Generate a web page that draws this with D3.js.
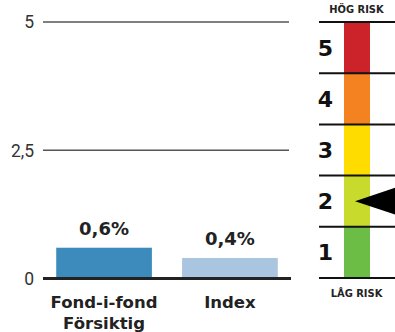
<!DOCTYPE html>
<html>
<head>
<meta charset="utf-8">
<script src="https://cdn.jsdelivr.net/npm/d3@7"></script>
<style>
  html, body { margin: 0; padding: 0; background: #fff; }
  svg { display: block; }
  text { font-family: Roboto, "Noto Sans", sans-serif; }
  .bold { font-family: "DejaVu Sans", sans-serif; font-weight: 700; }
  .cond { font-family: "DejaVu Sans Condensed", "DejaVu Sans", sans-serif; font-weight: 700; }
</style>
</head>
<body>
<svg id="chart" width="395" height="332"></svg>
<script>
// Fund fees vs index (percent)
const categories = ["Fond-i-fond Försiktig", "Index"];
const categoryLines = [["Fond-i-fond", "Försiktig"], ["Index"]];
const values = [0.6, 0.4];
const valueLabels = ["0,6%", "0,4%"];
const barColors = ["#3d8bbd", "#a9c5df"];
const yTicks = [0, 2.5, 5];
const yTickLabels = ["0", "2,5", "5"];

// Risk scale 1–5, current level
const riskLevels = [1, 2, 3, 4, 5];
const riskColors = ["#6cbd45", "#c8db2c", "#ffdc00", "#f58220", "#cc2229"];
const currentRisk = 2;
const riskTop = "HÖG RISK";
const riskBottom = "LÅG RISK";

const svg = d3.select("#chart");

// ---- Bar chart ----
const x = d3.scaleBand().domain(categories).range([43, 291]).paddingInner(0.24).paddingOuter(0.105);
const y = d3.scaleLinear().domain([0, 5]).range([278.5, 22]);

// gridlines
svg.append("g").selectAll("line")
  .data(yTicks.filter(d => d !== 0))
  .join("line")
  .attr("x1", 43).attr("x2", 289)
  .attr("y1", d => y(d)).attr("y2", d => y(d))
  .attr("stroke", "#555").attr("stroke-width", 1.4);

svg.append("g").selectAll("text")
  .data(yTicks)
  .join("text")
  .attr("x", 34).attr("y", d => y(d))
  .attr("dy", "0.36em")
  .attr("text-anchor", "end")
  .attr("font-size", 17.5)
  .attr("fill", "#333")
  .text((d, i) => yTickLabels[i]);

// bars
svg.append("g").selectAll("rect")
  .data(values)
  .join("rect")
  .attr("x", (d, i) => x(categories[i]))
  .attr("width", x.bandwidth())
  .attr("y", d => y(d))
  .attr("height", d => y(0) - y(d))
  .attr("fill", (d, i) => barColors[i]);

// baseline
svg.append("line")
  .attr("x1", 43).attr("x2", 291)
  .attr("y1", y(0)).attr("y2", y(0))
  .attr("stroke", "#222").attr("stroke-width", 3);

// value labels
svg.append("g").selectAll("text")
  .data(values)
  .join("text")
  .attr("class", "bold")
  .attr("x", (d, i) => x(categories[i]) + x.bandwidth() / 2)
  .attr("y", d => y(d) - 13)
  .attr("text-anchor", "middle")
  .attr("font-size", 18)
  .attr("fill", "#222")
  .text((d, i) => valueLabels[i]);

// category labels
const cat = svg.append("g").selectAll("text")
  .data(categories)
  .join("text")
  .attr("class", "bold")
  .attr("x", d => x(d) + x.bandwidth() / 2)
  .attr("y", 308)
  .attr("text-anchor", "middle")
  .attr("font-size", 16.5)
  .attr("fill", "#222");
cat.selectAll("tspan")
  .data((d, i) => categoryLines[i])
  .join("tspan")
  .attr("x", function () { return d3.select(this.parentNode).attr("x"); })
  .attr("dy", (d, j) => j === 0 ? 0 : 21)
  .text(d => d);

// ---- Risk scale ----
const r = d3.scaleBand().domain(riskLevels).range([278, 22]);

svg.append("g").selectAll("rect")
  .data(riskLevels)
  .join("rect")
  .attr("x", 344).attr("width", 26)
  .attr("y", d => r(d))
  .attr("height", r.bandwidth())
  .attr("fill", (d, i) => riskColors[i]);

const boundaries = riskLevels.map(d => r(d)).concat([r(1) + r.bandwidth()]);
svg.append("g").selectAll("line")
  .data(boundaries)
  .join("line")
  .attr("x1", 319).attr("x2", 395)
  .attr("y1", d => d).attr("y2", d => d)
  .attr("stroke", "#111").attr("stroke-width", 2);

svg.append("g").selectAll("text")
  .data(riskLevels)
  .join("text")
  .attr("class", "bold")
  .attr("x", 325.5).attr("y", d => r(d) + r.bandwidth() / 2)
  .attr("dy", "0.36em")
  .attr("text-anchor", "middle")
  .attr("font-size", 22)
  .attr("fill", "#111")
  .text(d => d);

svg.append("text")
  .attr("class", "cond")
  .attr("x", 356.5).attr("y", 13)
  .attr("text-anchor", "middle")
  .attr("font-size", 11)
  .attr("fill", "#222")
  .text(riskTop);

svg.append("text")
  .attr("class", "cond")
  .attr("x", 356.5).attr("y", 297)
  .attr("text-anchor", "middle")
  .attr("font-size", 11)
  .attr("fill", "#222")
  .text(riskBottom);

// current-level pointer
const ay = r(currentRisk) + r.bandwidth() / 2;
svg.append("path")
  .attr("d", d3.line()([[355, ay], [397, ay - 14], [397, ay + 14]]) + "Z")
  .attr("fill", "#000");
</script>
</body>
</html>
